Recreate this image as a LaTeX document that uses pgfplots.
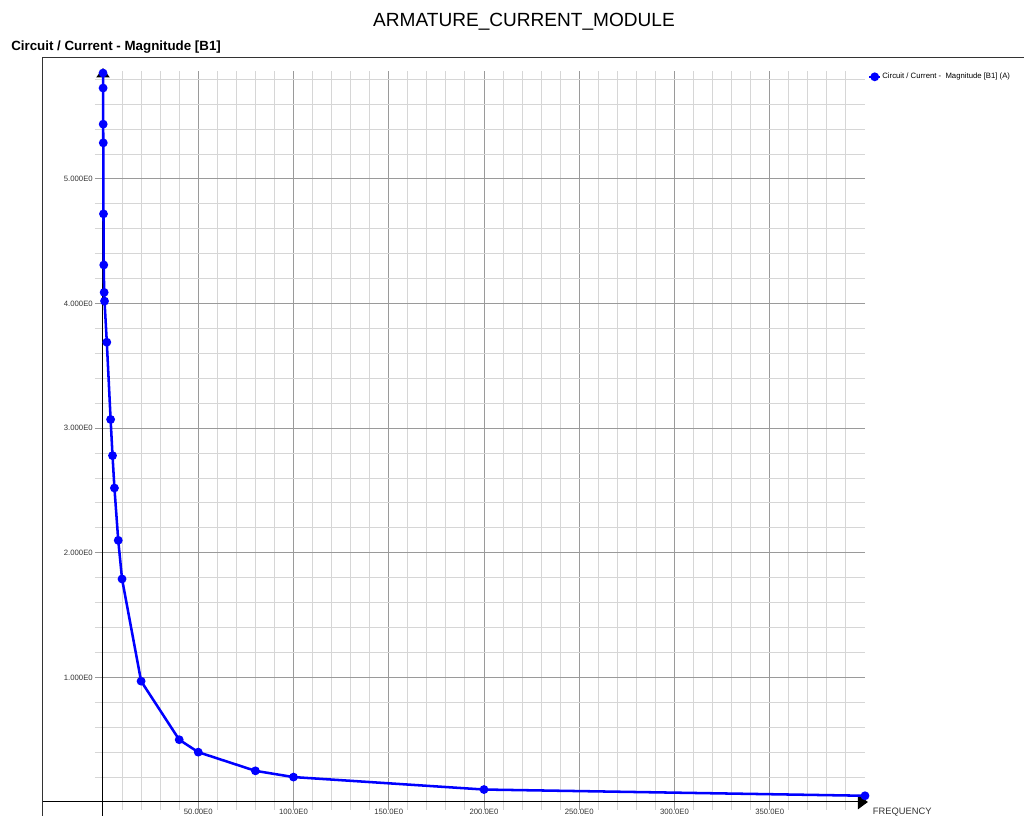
\documentclass[border=0pt]{standalone}
\usepackage{pgfplots}
\pgfplotsset{compat=1.18}
\usepackage{fontspec}
\setmainfont{Liberation Sans}
\usetikzlibrary{arrows.meta}
\definecolor{gridminor}{HTML}{D6D6D6}
\definecolor{gridmajor}{HTML}{9A9A9A}
\definecolor{labelgray}{HTML}{333333}
\definecolor{curveblue}{RGB}{0,0,255}

\begin{document}
\begin{tikzpicture}
\useasboundingbox (0,0) rectangle (768pt,612pt);
\clip (0,0) rectangle (768pt,612pt);
\node[anchor=center, font=\fontsize{14.3}{16}\selectfont] at (393pt,596pt) {ARMATURE\_CURRENT\_MODULE};
\node[anchor=base west, inner sep=0pt, font=\bfseries\fontsize{10}{12}\selectfont] at (8.25pt,573.75pt) {Circuit / Current - Magnitude [B1]};
\begin{axis}[
  at={(77.25pt,10.5pt)}, anchor=south west,
  scale only axis, width=571.5pt, height=548.55pt,
  xmin=0, xmax=400, ymin=0, ymax=5.87,
  clip=false,
  axis line style={draw=none},
  xtick={50,100,150,200,250,300,350},
  xticklabels={50.00E0,100.0E0,150.0E0,200.0E0,250.0E0,300.0E0,350.0E0},
  ytick={1,2,3,4,5},
  yticklabels={1.000E0,2.000E0,3.000E0,4.000E0,5.000E0},
  minor xtick={10,20,...,390},
  minor ytick={0.2,0.4,...,5.8},
  grid=both,
  major grid style={gridmajor, line width=0.75pt},
  minor grid style={gridminor, line width=0.75pt},
  tick align=outside, tick pos=left,
  major tick length=6pt, minor tick length=6pt,
  major tick style={gridmajor, line width=0.75pt},
  minor tick style={gridminor, line width=0.75pt},
  ticklabel style={font=\fontsize{5.8}{6}\selectfont, text=labelgray},
  xticklabel style={inner sep=0pt, yshift=1.2pt},
  yticklabel style={inner sep=1pt, xshift=-0.5pt},
  legend style={at={(axis cs:401.5,5.82)}, anchor=west, draw=none, fill=none,
    inner sep=0pt, outer sep=0pt, font=\fontsize{5.8}{6}\selectfont,
    nodes={inner sep=0.6pt}},
  legend cell align=left,
  legend image code/.code={\draw[mark repeat=2,mark phase=2,#1]
    plot coordinates {(0pt,0pt) (4.2pt,0pt) (8.4pt,0pt)};},
]
% outer frame
\draw[labelgray, line width=0.75pt] (axis cs:-31.7,-0.4) -- (axis cs:-31.7,5.979) -- (axis cs:540,5.979);
% axis lines with arrow heads
\draw[black, line width=0.75pt, -{Triangle[width=11pt,length=7.5pt]}] (axis cs:-31.7,0) -- (axis cs:401.5,0);
\draw[black, line width=0.75pt, -{Triangle[width=10pt,length=7pt]}] (axis cs:0,-0.4) -- (axis cs:0,5.89);
\node[anchor=west, inner sep=0pt, font=\fontsize{7}{8}\selectfont, text=labelgray] at (axis cs:404,-0.08) {FREQUENCY};

\addplot[curveblue, line width=1.9pt, mark=*, mark size=2.3pt, mark options={solid}] coordinates {
  (0.02,5.85) (0.05,5.73) (0.1,5.44) (0.15,5.29) (0.25,4.72) (0.4,4.31)
  (0.6,4.09) (0.8,4.02) (2,3.69) (4,3.07) (5,2.78) (6,2.52) (8,2.10)
  (10,1.79) (20,0.97) (40,0.50) (50,0.40) (80,0.25) (100,0.20)
  (200,0.10) (400,0.05)
};
\addlegendentry{Circuit / Current -\ \ Magnitude [B1] (A)}
\end{axis}
\end{tikzpicture}
\end{document}
